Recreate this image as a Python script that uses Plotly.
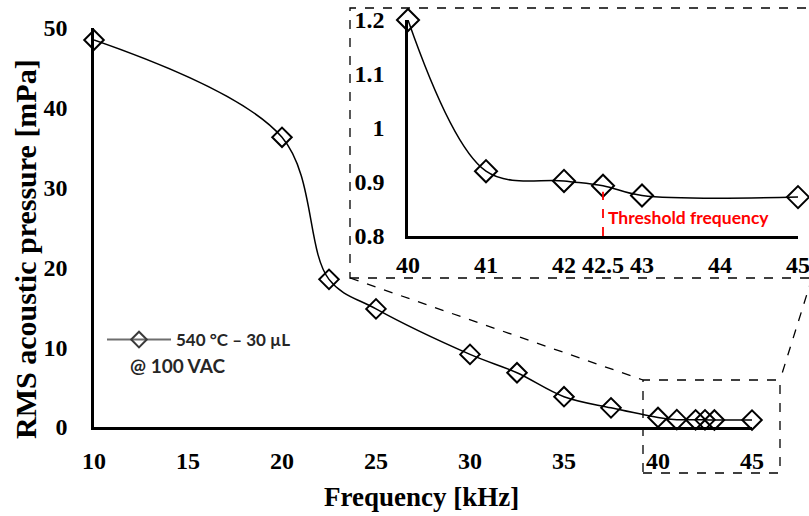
import plotly.graph_objects as go

# ---------------- data ----------------
freq_main = [10, 20, 22.5, 25, 30, 32.5, 35, 37.5, 40, 41, 42, 42.5, 43, 45]
pres_main = [48.5, 36.3, 18.5, 14.8, 9.1, 6.8, 3.8, 2.4, 1.2, 0.92, 0.90, 0.893, 0.875, 0.872]

freq_inset = [40, 41, 42, 42.5, 43, 45]
pres_inset = [1.2, 0.92, 0.902, 0.893, 0.875, 0.872]

main_xticks = [10, 15, 20, 25, 30, 35, 40, 45]
main_yticks = [0, 10, 20, 30, 40, 50]
inset_xticks = [40, 41, 42, 42.5, 43, 44, 45]
inset_xticklabels = ["40", "41", "42", "42.5", "43", "44", "45"]
inset_yticks = [0.8, 0.9, 1.0, 1.1, 1.2]
inset_yticklabels = ["0.8", "0.9", "1", "1.1", "1.2"]

threshold_freq = 42.5
series_name = "540 °C – 30 µL"
series_note = "@ 100 VAC"

W, H = 809, 516
def px(x):
    return x / W
def py(y):
    return (H - y) / H

serif = "Liberation Serif, Times New Roman, serif"
sans = "Lato"

fig = go.Figure()

# main series
fig.add_trace(go.Scatter(
    x=freq_main, y=pres_main, mode="lines+markers",
    line=dict(color="black", width=1.5, shape="spline", smoothing=1),
    marker=dict(symbol="diamond-open", size=15, color="black", line=dict(width=2)),
    cliponaxis=False, showlegend=False, xaxis="x", yaxis="y"))

# legend-only trace
fig.add_trace(go.Scatter(
    x=[None], y=[None], mode="lines+markers", name=series_name,
    line=dict(color="#6e6e6e", width=2),
    marker=dict(symbol="diamond-open", size=12, color="#3a3a3a", line=dict(width=2)),
    showlegend=True, xaxis="x", yaxis="y"))

# inset series
fig.add_trace(go.Scatter(
    x=freq_inset, y=pres_inset, mode="lines+markers",
    line=dict(color="black", width=1.5, shape="spline", smoothing=1),
    marker=dict(symbol="diamond-open", size=17, color="black", line=dict(width=2)),
    cliponaxis=False, showlegend=False, xaxis="x2", yaxis="y2"))

def tf():
    return dict(family=serif, size=24, color="black", weight="bold")

common = dict(showgrid=False, zeroline=False, showline=True, linecolor="black", linewidth=2.5,
              ticks="", automargin=False, ticklabeloverflow="allow")

fig.update_layout(
    template="none",
    font=dict(family=serif),
    width=W, height=H, margin=dict(l=0, r=0, t=0, b=0, autoexpand=False),
    paper_bgcolor="white", plot_bgcolor="rgba(0,0,0,0)",
    xaxis=dict(domain=[px(94), px(752)], range=[10, 45], tickvals=main_xticks,
               tickfont=tf(), ticklabelstandoff=10, anchor="y", **common),
    yaxis=dict(domain=[py(427), py(28)], range=[0, 50], tickvals=main_yticks,
               tickfont=tf(), ticklabelstandoff=19, anchor="x", **common),
    xaxis2=dict(domain=[px(408), px(798)], range=[40, 45], tickvals=inset_xticks,
                ticktext=inset_xticklabels, tickfont=tf(), ticklabelstandoff=5, anchor="y2", **common),
    yaxis2=dict(domain=[py(236), py(20)], range=[0.8, 1.2], tickvals=inset_yticks,
                ticktext=inset_yticklabels, tickfont=tf(), ticklabelstandoff=16, anchor="x2", **common),
    legend=dict(x=px(102), y=py(322), xanchor="left", yanchor="top",
                bgcolor="rgba(0,0,0,0)", borderwidth=0,
                font=dict(family=sans, size=17, color="#262626", weight="bold"),
                itemwidth=64),
)

dash = dict(color="black", width=1.3, dash="dash")
shapes = [
    dict(type="rect", xref="paper", yref="paper", x0=px(350), x1=px(812), y0=py(278), y1=py(8), line=dash),
    dict(type="rect", xref="paper", yref="paper", x0=px(643), x1=px(780), y0=py(473), y1=py(380), line=dash),
    dict(type="line", xref="paper", yref="paper", x0=px(350), y0=py(278), x1=px(643), y1=py(380), line=dash),
    dict(type="line", xref="paper", yref="paper", x0=px(812), y0=py(278), x1=px(780), y1=py(380), line=dash),
    dict(type="line", xref="x2", yref="y2", x0=threshold_freq, x1=threshold_freq, y0=0.8, y1=0.882,
         line=dict(color="red", width=1.8, dash="dash")),
]
fig.update_layout(shapes=shapes)

annotations = [
    dict(text="RMS acoustic pressure [mPa]", xref="paper", yref="paper", x=px(26), y=py(249),
         xanchor="center", yanchor="middle",
         textangle=-90, showarrow=False, font=dict(family=serif, size=30, color="black", weight="bold")),
    dict(text="Frequency [kHz]", xref="paper", yref="paper", x=px(422), y=py(497),
         xanchor="center", yanchor="middle",
         showarrow=False, font=dict(family=serif, size=27, color="black", weight="bold")),
    dict(text="Threshold frequency", xref="x2", yref="y2", x=threshold_freq, y=0.834, xanchor="left",
         yanchor="middle", xshift=3, showarrow=False,
         font=dict(family=sans, size=17.5, color="red", weight="bold")),
    dict(text=series_note, xref="paper", yref="paper", x=px(128), y=py(366), xanchor="left",
         yanchor="middle", showarrow=False, font=dict(family=sans, size=19, color="#262626", weight="bold")),
]
fig.update_layout(annotations=annotations)

fig.write_html("out.html")
